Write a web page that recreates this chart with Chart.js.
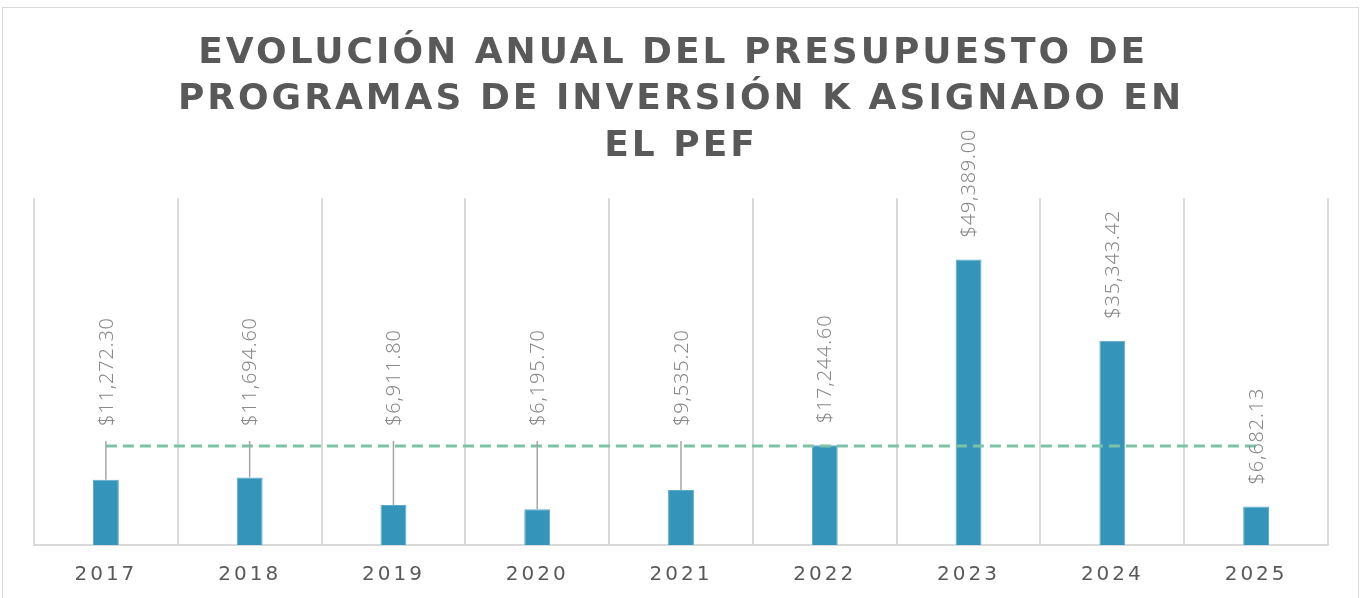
<!DOCTYPE html>
<html lang="es">
<head>
<meta charset="utf-8">
<title>Evolución anual del presupuesto</title>
<script src="https://cdn.jsdelivr.net/npm/chart.js@4/dist/chart.umd.min.js"></script>
<style>
  html, body { margin: 0; padding: 0; background: #fff; }
  .chart-wrap { position: relative; width: 1363px; height: 598px; }
  .marco { position: absolute; left: 2px; top: 7px; width: 1355px; height: 600px; border: 1px solid #d9d9d9; pointer-events: none; }
</style>
</head>
<body>
<div class="chart-wrap">
  <canvas id="presupuestoChart" width="1363" height="598"></canvas>
  <div class="marco"></div>
</div>
<script>
const anios = ['2017', '2018', '2019', '2020', '2021', '2022', '2023', '2024', '2025'];
const presupuesto = [11272.30, 11694.60, 6911.80, 6195.70, 9535.20, 17244.60, 49389.00, 35343.42, 6682.13];
const promedio = [17140.97, 17140.97, 17140.97, 17140.97, 17140.97, 17140.97, 17140.97, 17140.97, 17140.97];
// etiquetas que salen por encima del promedio con línea guía
const conLinea = [true, true, true, true, true, false, false, false, false];

const titulo = ['EVOLUCIÓN ANUAL DEL PRESUPUESTO DE ', 'PROGRAMAS DE INVERSIÓN K ASIGNADO EN', 'EL PEF'];

const fmt = (v) => '$' + v.toLocaleString('en-US', { minimumFractionDigits: 2, maximumFractionDigits: 2 });

const spacingPlugin = {
  id: 'spacing',
  beforeDraw(chart) { chart.ctx.letterSpacing = '3px'; },
  beforeDatasetsDraw(chart) { chart.ctx.letterSpacing = '0px'; }
};

const etiquetasPlugin = {
  id: 'etiquetas',
  afterDatasetsDraw(chart) {
    const ctx = chart.ctx;
    const meta = chart.getDatasetMeta(1);
    const y = chart.scales.y;
    ctx.save();
    ctx.font = '300 20px "Noto Sans"';
    ctx.letterSpacing = '0.8px';
    ctx.fillStyle = '#8a8a8a';
    ctx.strokeStyle = '#a6a6a6';
    ctx.lineWidth = 1.5;
    meta.data.forEach((bar, i) => {
      const avgY = y.getPixelForValue(promedio[i]);
      let base;
      if (conLinea[i]) {
        base = avgY - 20;
        ctx.beginPath();
        ctx.moveTo(bar.x, avgY - 5);
        ctx.lineTo(bar.x, bar.y);
        ctx.stroke();
      } else {
        base = bar.y - 22;
      }
      ctx.save();
      ctx.translate(bar.x + 1, base);
      ctx.rotate(-Math.PI / 2);
      ctx.textAlign = 'left';
      ctx.textBaseline = 'middle';
      ctx.fillText(fmt(presupuesto[i]), 0, 0);
      ctx.restore();
    });
    ctx.restore();
  }
};

new Chart(document.querySelector('#presupuestoChart'), {
  data: {
    labels: anios,
    datasets: [
      {
        type: 'line',
        data: promedio,
        borderColor: '#7cc3a5',
        borderWidth: 3,
        borderDash: [11, 6],
        pointRadius: 0,
        fill: false,
        order: 0
      },
      {
        type: 'bar',
        data: presupuesto,
        backgroundColor: '#3494ba',
        borderColor: '#5aaacb',
        borderWidth: 1,
        barPercentage: 0.18,
        categoryPercentage: 1,
        order: 1
      }
    ]
  },
  options: {
    responsive: false,
    animation: false,
    layout: { padding: { top: 10, left: 34, right: 35, bottom: -7 } },
    plugins: {
      legend: { display: false },
      tooltip: { enabled: false },
      title: {
        display: true,
        text: titulo,
        color: '#595959',
        font: { family: '"DejaVu Sans"', size: 36, weight: 'bold', lineHeight: 1.28 },
        padding: { top: 21, bottom: 29 }
      }
    },
    scales: {
      x: {
        grid: { color: '#d9d9d9', lineWidth: 2, offset: true, drawTicks: false },
        border: { color: '#d9d9d9', width: 2 },
        ticks: { color: '#595959', padding: 18, font: { family: '"DejaVu Sans"', size: 20, lineHeight: 1.2 } }
      },
      y: {
        display: false,
        min: 0,
        max: 60000
      }
    }
  },
  plugins: [spacingPlugin, etiquetasPlugin]
});
</script>
</body>
</html>
